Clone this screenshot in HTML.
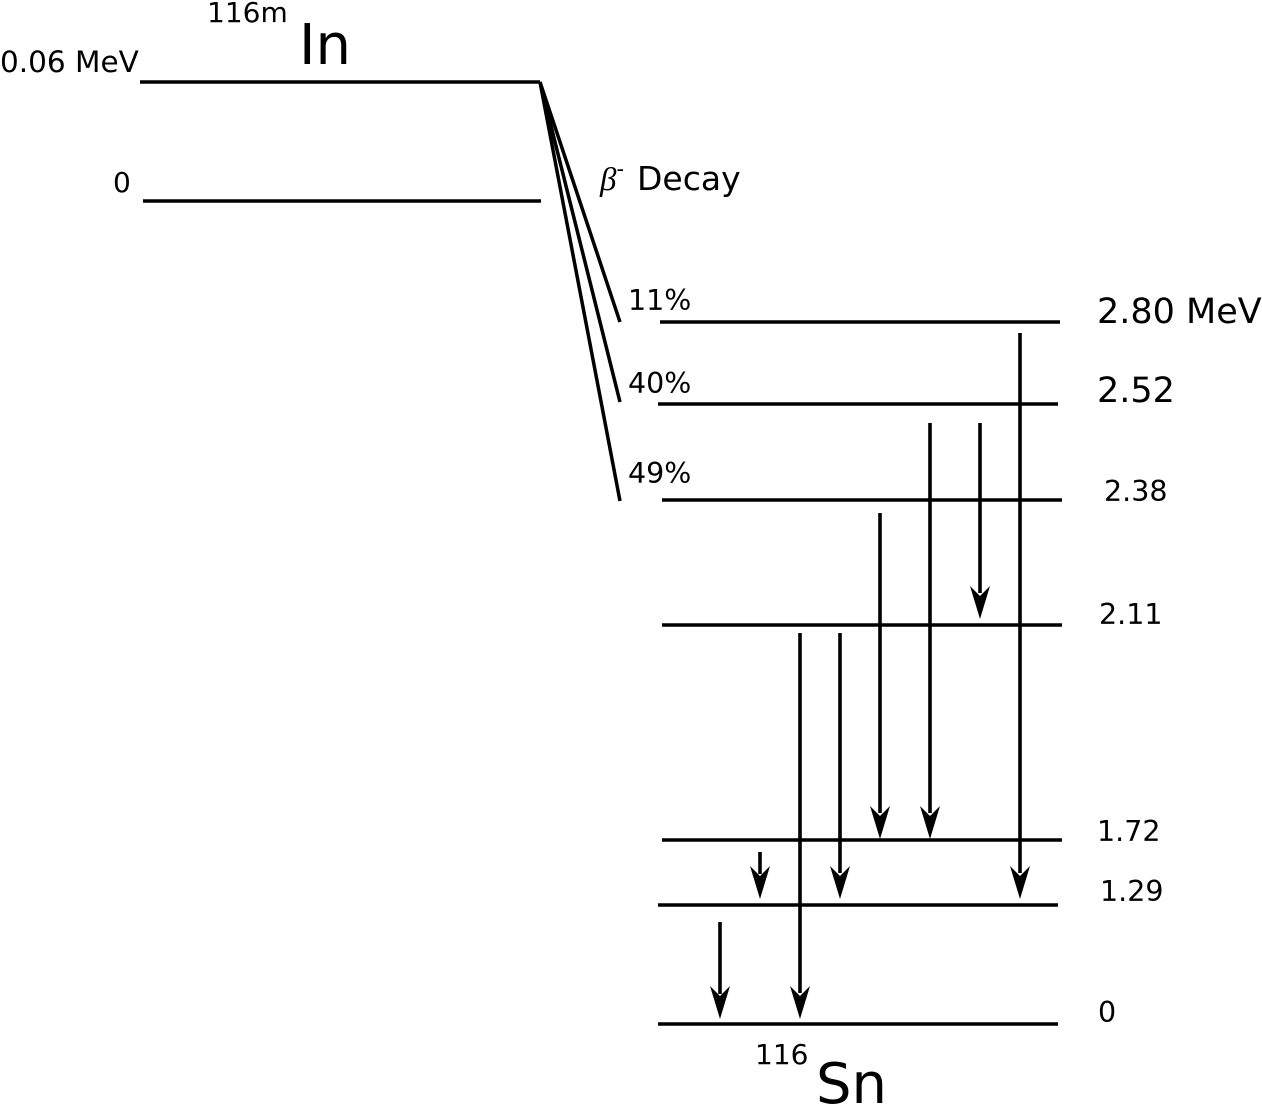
<!DOCTYPE html>
<html><head><meta charset="utf-8"><style>
html,body{margin:0;padding:0;background:#fff;}
svg{display:block;font-family:"DejaVu Sans","Liberation Sans",sans-serif;}
</style></head><body>
<svg width="1262" height="1105" viewBox="0 0 1262 1105">
<g stroke="#000" stroke-width="3.5" fill="none">
<line x1="140" y1="82" x2="540" y2="82"/>
<line x1="143" y1="201" x2="541" y2="201"/>
<line x1="540" y1="82" x2="620" y2="322"/>
<line x1="540" y1="82" x2="620" y2="402"/>
<line x1="540" y1="82" x2="620" y2="501"/>
<line x1="660" y1="322" x2="1060" y2="322"/>
<line x1="658" y1="404" x2="1058" y2="404"/>
<line x1="662" y1="500" x2="1062" y2="500"/>
<line x1="662" y1="625" x2="1062" y2="625"/>
<line x1="662" y1="840" x2="1062" y2="840"/>
<line x1="658" y1="905" x2="1058" y2="905"/>
<line x1="658" y1="1024" x2="1058" y2="1024"/>
</g>
<g fill="#000">
<g>
<path d="M1018.2,333h3.6v540h-3.6z"/><path d="M1010,866 L1020,899 L1030,866 L1020,876Z"/>
<path d="M928.2,423h3.6v390h-3.6z"/><path d="M920,806 L930,839 L940,806 L930,816Z"/>
<path d="M978.2,423h3.6v170h-3.6z"/><path d="M970,586 L980,619 L990,586 L980,596Z"/>
<path d="M878.2,513h3.6v300h-3.6z"/><path d="M870,806 L880,839 L890,806 L880,816Z"/>
<path d="M838.2,633h3.6v240h-3.6z"/><path d="M830,866 L840,899 L850,866 L840,876Z"/>
<path d="M798.2,633h3.6v360h-3.6z"/><path d="M790,986 L800,1019 L810,986 L800,996Z"/>
<path d="M758.2,852h3.6v22h-3.6z"/><path d="M750,866 L760,899 L770,866 L760,876Z"/>
<path d="M718.2,922h3.6v72h-3.6z"/><path d="M710,986 L720,1019 L730,986 L720,996Z"/>
</g>
<text x="0" y="72" font-size="29.5">0.06 MeV</text>
<text x="113" y="192" font-size="28">0</text>
<text x="207" y="22" font-size="28">116m</text>
<text x="299" y="64" font-size="56">In</text>
<text x="600" y="190" font-size="33"><tspan font-family="Liberation Serif,serif" font-style="italic">β</tspan><tspan font-size="21" dy="-14">-</tspan><tspan x="637" dy="14">Decay</tspan></text>
<text x="628" y="310" font-size="28.5">11%</text>
<text x="628" y="393" font-size="28.5">40%</text>
<text x="628" y="483" font-size="28.5">49%</text>
<text x="1097" y="323" font-size="35">2.80 MeV</text>
<text x="1097" y="402" font-size="35">2.52</text>
<text x="1104" y="501" font-size="28.5">2.38</text>
<text x="1099" y="624" font-size="28.5">2.11</text>
<text x="1097" y="841" font-size="28.5">1.72</text>
<text x="1100" y="901" font-size="28.5">1.29</text>
<text x="1098" y="1022" font-size="28.5">0</text>
<text x="755" y="1064" font-size="28">116</text>
<text x="816" y="1103" font-size="56">Sn</text>
</g>
</svg>
</body></html>
